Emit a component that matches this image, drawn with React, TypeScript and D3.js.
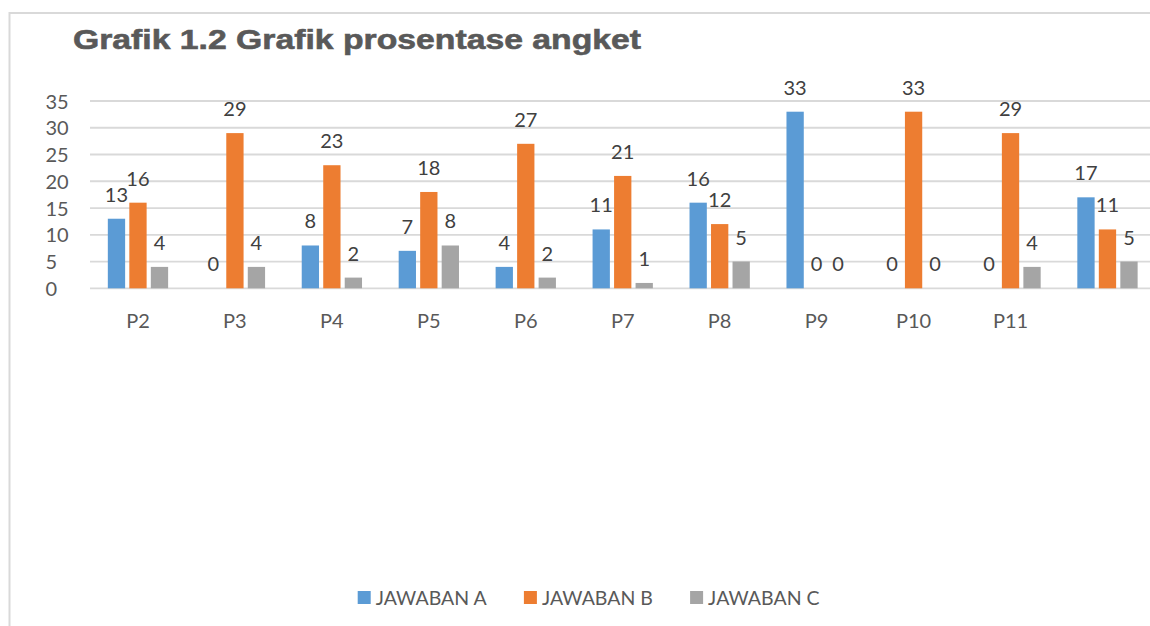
import React from "react";
import * as d3 from "d3";

const categories = ["P2", "P3", "P4", "P5", "P6", "P7", "P8", "P9", "P10", "P11", ""];
const jawabanA = [13, 0, 8, 7, 4, 11, 16, 33, 0, 0, 17];
const jawabanB = [16, 29, 23, 18, 27, 21, 12, 0, 33, 29, 11];
const jawabanC = [4, 4, 2, 8, 2, 1, 5, 0, 0, 4, 5];
const seriesNames = ["JAWABAN A", "JAWABAN B", "JAWABAN C"];
const seriesColors = ["#5b9bd5", "#ed7d31", "#a5a5a5"];
const yTicks = [0, 5, 10, 15, 20, 25, 30, 35];
const title = "Grafik 1.2 Grafik prosentase angket";

const W = 1150;
const H = 626;
const FONT = "Lato, 'Open Sans', sans-serif";

export default function App() {
  const plotLeft = 89.5;
  const step = 96.95;
  const x = d3
    .scaleBand<string>()
    .domain(categories.map((c, i) => c + "#" + i))
    .range([plotLeft, plotLeft + step * categories.length])
    .padding(0);
  const y = d3.scaleLinear().domain([0, 35]).range([288.3, 101]);

  const subStep = 21.5;
  const subPadInner = 4.2 / subStep;
  const subWidth = 3 * subStep - subPadInner * subStep;
  const xs = d3
    .scaleBand<string>()
    .domain(seriesNames)
    .range([-subWidth / 2, subWidth / 2])
    .paddingInner(subPadInner)
    .paddingOuter(0);

  const series = [jawabanA, jawabanB, jawabanC];
  const gridRight = W;

  return (
    <div style={{ position: "fixed", left: 0, top: 0, width: W, height: H, background: "#fff" }}>
      <svg width={W} height={H} style={{ display: "block" }}>
        <rect x={0} y={0} width={W} height={H} fill="#fff" />
        {/* frame */}
        <line x1={9.5} x2={W} y1={13} y2={13} stroke="#d9d9d9" strokeWidth={2} />
        <line x1={9.5} x2={9.5} y1={12} y2={H} stroke="#d9d9d9" strokeWidth={2} />

        {/* title */}
        <text
          x={73}
          y={49.3}
          fontFamily="'Liberation Sans', Arial, sans-serif"
          fontWeight="bold"
          fontSize={28}
          fill="#595959"
          stroke="#595959"
          strokeWidth={0.6}
          textLength={568}
          lengthAdjust="spacingAndGlyphs"
        >
          {title}
        </text>

        {/* gridlines */}
        {yTicks.map((t) => (
          <line key={"g" + t} x1={90} x2={gridRight} y1={y(t)} y2={y(t)} stroke="#d9d9d9" strokeWidth={1.8} />
        ))}
        {/* y tick labels */}
        {yTicks.map((t) => (
          <text
            key={"yt" + t}
            x={45.5}
            y={y(t) + 7.5}
            fontFamily={FONT}
            fontSize={20}
            fill="#595959"
          >
            {t}
          </text>
        ))}

        {/* bars */}
        {categories.map((c, i) => {
          const cx = (x(c + "#" + i) as number) + x.bandwidth() / 2;
          return (
            <g key={"cat" + i}>
              {series.map((s, si) => {
                const bx = cx + (xs(seriesNames[si]) as number);
                const v = s[i];
                return (
                  <g key={"b" + si}>
                    {v > 0 && (
                      <rect x={bx} y={y(v)} width={xs.bandwidth()} height={y(0) - y(v)} fill={seriesColors[si]} />
                    )}
                    <text
                      x={bx + xs.bandwidth() / 2}
                      y={y(v) - 17}
                      textAnchor="middle"
                      fontFamily={FONT}
                      fontSize={20}
                      fill="#404040"
                    >
                      {v}
                    </text>
                  </g>
                );
              })}
              <text x={cx} y={327.5} textAnchor="middle" fontFamily={FONT} fontSize={20} fill="#595959">
                {c}
              </text>
            </g>
          );
        })}

        {/* legend */}
        {seriesNames.map((n, i) => {
          const lx = 357.7 + i * 166.2;
          return (
            <g key={"lg" + i}>
              <rect x={lx} y={591} width={13} height={13} fill={seriesColors[i]} />
              <text x={lx + 18} y={605} fontFamily={FONT} fontSize={19.5} fill="#595959">
                {n}
              </text>
            </g>
          );
        })}
      </svg>
    </div>
  );
}
